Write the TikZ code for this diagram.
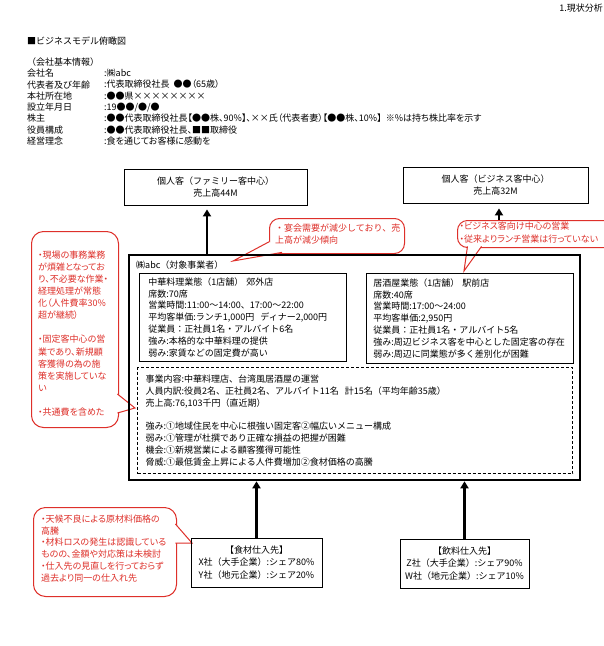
\documentclass[tikz,border=0pt]{standalone}
\usepackage{fontspec}
\setmainfont{Noto Sans CJK JP}
\newcommand\narrowjp{\addfontfeature{RawFeature=+palt}}
\usetikzlibrary{arrows.meta}
\definecolor{notered}{RGB}{222,48,42}
\tikzset{
  txt/.style={inner sep=0pt, anchor=north west, align=left, font=\fontsize{9}{11.8}\selectfont},
  redtxt/.style={txt, text=notered},
  box/.style={draw, line width=0.8pt, inner sep=0pt, align=center, font=\fontsize{9}{12.5}\selectfont},
  shop/.style={draw, line width=0.8pt, anchor=north west, align=left, inner ysep=0pt, font=\fontsize{9}{11.9}\selectfont},
  bubble/.style={draw=notered, fill=white, line width=1pt, rounded corners=10pt, inner sep=0pt, anchor=north west},
  tail/.style={draw=notered, fill=white, line width=1pt},
  flow/.style={line width=2.6pt, -{Triangle[width=8pt,length=7pt]}}
}

\begin{document}
\begin{tikzpicture}[x=1pt, y=-1pt]
  \useasboundingbox (0,0) rectangle (604,646);

  % header and company data
  \node[txt, anchor=north east] (page) at (603,3.5) {1.現状分析};
  \node[txt] (head) at (27,36.5) {■ビジネスモデル俯瞰図};
  \node[txt, font=\fontsize{9}{11.3}\selectfont] (infokey) at (27,57.5)
    {（会社基本情報）\\会社名\\代表者及び年齢\\本社所在地\\設立年月日\\株主\\役員構成\\経営理念};
  \node[txt, font=\fontsize{9}{11.3}\selectfont\narrowjp] (infoval) at (104,68.8)
    {:㈱abc\\:代表取締役社長\ \ ●●（65歳）\\:●●県××××××××\\:19●●/●/●\\
     :●●代表取締役社長【●●株、90\%】、××氏（代表者妻）【●●株、10\%】\ \ ※\%は持ち株比率を示す\\
     :●●代表取締役社長、■■取締役\\:食を通じてお客様に感動を};

  % customers
  \node[box, minimum width=183pt, minimum height=36pt] (famcust) at (215.5,187) {個人客（ファミリー客中心）\\売上高44M};
  \node[box, minimum width=185pt, minimum height=36pt] (bizcust) at (495.5,185) {個人客（ビジネス客中心）\\売上高32M};

  % callouts
  \node[bubble, minimum width=135pt, minimum height=35pt] (banqbox) at (269,218) {};
  \draw[tail] (269.6,241.5) -- (233,261) -- (282,252.4);
  \node[redtxt, font=\fontsize{9}{12}\selectfont] (banqnote) at (275,223.5) {・宴会需要が減少しており、売\\上高が減少傾向};

  \node[bubble, minimum width=160pt, minimum height=27pt] (bizbox) at (457,220) {};
  \draw[tail] (467.5,246.4) -- (464,271) -- (481.5,246.4);
  \node[redtxt, font=\fontsize{9}{13}\selectfont\narrowjp] (biznote) at (459.5,221.5) {・ビジネス客向け中心の営業\\・従来よりランチ営業は行っていない};

  \node[bubble, minimum width=87pt, minimum height=196pt, rounded corners=12pt] (officebox) at (31,231) {};
  \draw[tail] (117.4,394) -- (135,408) -- (117.4,413);
  \node[redtxt, font=\fontsize{9}{12.1}\selectfont\narrowjp] (officenote) at (38,250.5)
    {・現場の事務業務\\が煩雑となってお\\り、不必要な作業・\\経理処理が常態\\化（人件費率30\%\\超が継続）\\[12.1pt]
     ・固定客中心の営\\業であり、新規顧\\客獲得の為の施\\策を実施していな\\い\\[12.1pt]・共通費を含めた};

  \node[bubble, minimum width=143pt, minimum height=89pt, rounded corners=12pt] (stockbox) at (33,507) {};
  \draw[tail] (175.4,524) -- (192,543) -- (175.4,543);
  \node[redtxt, font=\fontsize{9}{11.8}\selectfont\narrowjp] (stocknote) at (41,514.5)
    {・天候不良による原材料価格の\\高騰\\・材料ロスの発生は認識している\\ものの、金額や対応策は未検討\\・仕入先の見直しを行っておらず\\過去より同一の仕入れ先};

  % target business
  \node[draw, line width=2.6pt, minimum width=451pt, minimum height=225pt, inner sep=0pt] (main) at (354.5,367.5) {};
  \node[txt] (mainname) at (136,260.5) {㈱abc（対象事業者）};
  \node[shop, inner xsep=9pt, text width=189pt, minimum height=88pt] (chinese) at (139,273)
    {中華料理業態（1店舗）\ 郊外店\\席数:70席\\営業時間:11:00～14:00、17:00～22:00\\平均客単価:ランチ1,000円\ \ ディナー2,000円\\
     従業員：正社員1名・アルバイト6名\\強み:本格的な中華料理の提供\\弱み:家賃などの固定費が高い};
  \node[shop, inner xsep=7pt, text width=193pt, minimum height=90pt] (izakaya) at (366,273)
    {居酒屋業態（1店舗）\ 駅前店\\席数:40席\\営業時間:17:00～24:00\\平均客単価:2,950円\\
     従業員：正社員1名・アルバイト5名\\強み:周辺ビジネス客を中心とした固定客の存在\\弱み:周辺に同業態が多く差別化が困難};
  \node[shop, dash pattern=on 3pt off 2pt, line width=1.1pt, inner xsep=8pt, text width=419pt, minimum height=106pt] (company) at (137,367)
    {事業内容:中華料理店、台湾風居酒屋の運営\\人員内訳:役員2名、正社員2名、アルバイト11名\ \ 計15名（平均年齢35歳）\\売上高:76,103千円（直近期）\\[11.9pt]
     強み:①地域住民を中心に根強い固定客②幅広いメニュー構成\\弱み:①管理が杜撰であり正確な損益の把握が困難\\
     機会:①新規営業による顧客獲得可能性\\脅威:①最低賃金上昇による人件費増加②食材価格の高騰};

  % sales arrows
  \coordinate (famup) at (207,0);
  \coordinate (bizup) at (499,0);
  \draw[flow, shorten >=4pt] (famup |- main.north) -- (famup |- famcust.south);
  \draw[flow, shorten >=5pt] (bizup |- bizbox.north) -- (bizup |- bizcust.south);

  % suppliers
  \node[box, minimum width=131pt, minimum height=49pt] (food) at (256.5,562.5)
    {【食材仕入先】\\X社（大手企業）:シェア80\%\\Y社（地元企業）:シェア20\%};
  \node[box, minimum width=129pt, minimum height=49pt] (drink) at (464.5,563.5)
    {【飲料仕入先】\\Z社（大手企業）:シェア90\%\\W社（地元企業）:シェア10\%};
  \draw[flow] (food.north) -- (food.north |- main.south);
  \draw[flow] (drink.north) -- (drink.north |- main.south);
\end{tikzpicture}
\end{document}
